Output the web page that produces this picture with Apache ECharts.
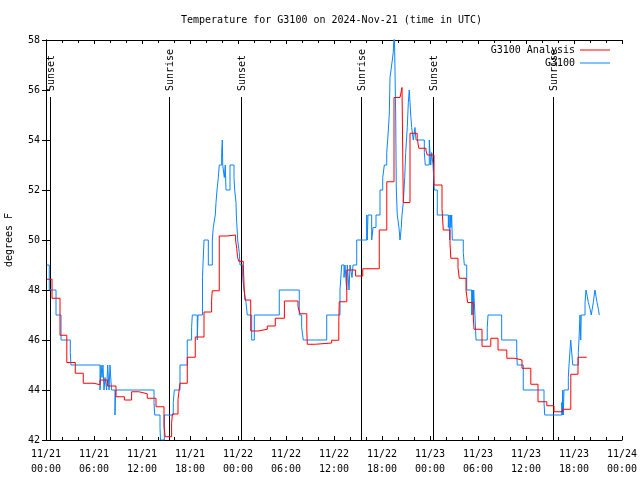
<!DOCTYPE html>
<html>
<head>
<meta charset="utf-8">
<script src="https://cdn.jsdelivr.net/npm/echarts@6/dist/echarts.min.js"></script>
<style>html,body{margin:0;padding:0;background:#fff}#c{width:640px;height:480px}</style>
</head>
<body>
<div id="c"></div>
<script>
// hours since 2024-11-21 00:00 UTC
const analysisHours = [0.12,0.75,1.75,2.6,3.66,4.66,6.0,6.75,7.7,8.75,9.8,10.7,11.6,12.66,13.75,14.75,14.9,15.7,15.8,16.5,16.75,17.66,18.66,19.75,20.7,20.78,21.66,22.6,23.7,23.84,23.94,24.08,24.66,24.78,24.87,25.59,26.5,27.66,28.66,29.8,31.5,31.75,32.6,32.66,33.7,35.7,36.6,36.66,37.6,38.7,39.6,41.66,42.6,43.5,44.25,44.5,44.66,45.5,46.4,46.6,47.5,47.66,48.5,49.5,49.66,50.5,50.6,51.5,51.66,52.5,52.7,53.4,53.5,54.5,55.6,56.5,57.6,58.6,59.5,60.6,61.5,62.6,63.5,64.6,65.6,66.5,67.6];
const analysisTemps = [48.43,47.67,46.19,45.1,44.67,44.27,44.21,44.4,44.16,43.73,43.6,43.93,43.85,43.67,43.33,42.53,42.13,42.67,43.04,43.63,44.27,45.31,46.12,47.12,47.57,47.97,50.16,50.2,50.0,49.67,49.33,49.15,49.04,48.0,47.6,46.36,46.43,46.56,46.87,47.56,47.33,47.05,46.43,45.83,45.88,45.99,46.77,47.53,48.8,48.56,48.85,50.4,52.33,55.7,55.75,56.1,51.5,54.27,54.07,53.67,53.57,53.4,52.2,51.27,50.4,49.87,49.27,48.89,48.47,48.0,47.5,47.0,46.43,45.75,46.07,45.6,45.27,45.2,44.87,44.23,43.53,43.37,43.13,43.23,44.63,45.31,45.31];
const obsHours = [0.09,0.41,1.25,1.88,3.04,3.12,6.75,6.88,7.0,7.12,7.25,7.38,7.58,7.71,7.88,8.0,8.19,8.34,8.62,8.71,13.5,13.59,14.25,14.31,14.79,15.91,16.04,16.75,17.66,18.2,18.29,18.91,19.0,19.56,19.75,20.29,20.79,20.91,21.16,21.25,21.38,21.54,21.66,21.96,22.04,22.09,22.29,22.41,22.5,23.0,23.5,23.59,23.75,23.79,23.88,23.96,24.16,24.25,24.59,24.75,25.0,25.16,25.71,26.04,29.16,31.66,31.96,32.16,35.09,36.75,36.96,37.25,37.38,37.58,37.66,37.88,38.0,38.25,38.38,38.84,40.09,40.16,40.25,40.71,40.88,41.25,41.75,42.09,42.29,42.59,42.71,42.91,43.0,43.21,43.41,43.54,43.71,43.79,43.91,44.12,44.25,44.41,44.5,44.66,44.84,44.96,45.16,45.29,45.41,45.59,45.71,45.91,46.12,46.25,47.29,47.41,47.91,48.09,48.21,48.38,48.46,48.54,48.91,50.29,50.38,50.46,50.54,50.62,50.71,50.79,52.16,52.29,52.59,53.21,53.29,53.38,53.46,53.62,53.75,55.16,55.25,56.96,58.84,58.91,59.66,62.25,62.34,64.46,64.54,64.59,64.66,64.75,65.29,65.38,65.59,65.84,66.54,66.62,66.75,66.84,66.91,67.38,67.5,67.66,67.79,68.0,68.16,68.41,68.62,68.75,68.88,69.04,69.16];
const obsTemps = [49.0,48.0,47.0,46.0,45.5,45.0,44.0,45.0,44.5,45.0,44.0,44.5,44.0,45.0,44.0,45.0,44.0,44.0,43.0,44.0,43.5,43.0,42.5,42.0,43.0,43.5,44.0,45.0,46.0,46.5,47.0,46.0,47.0,48.5,50.0,49.0,50.0,50.5,51.0,51.5,52.0,52.5,53.0,53.5,54.0,53.0,52.5,53.0,52.0,53.0,52.5,52.0,51.5,51.0,50.5,50.0,49.5,49.0,48.5,48.0,47.5,47.0,46.0,47.0,48.0,47.0,46.5,46.0,47.0,48.0,49.0,48.5,49.0,48.0,49.0,48.0,49.0,48.5,49.0,50.0,51.0,50.0,51.0,50.0,50.5,51.0,52.0,52.5,53.0,53.5,54.0,55.0,56.5,57.0,57.5,58.5,55.0,52.0,51.0,50.5,50.0,50.5,51.0,51.5,52.5,53.5,54.5,55.5,56.0,55.0,54.5,54.0,54.5,54.0,53.5,53.0,54.0,53.0,53.5,53.0,52.5,52.0,51.0,50.5,51.0,50.0,51.0,50.5,51.0,50.0,49.5,49.0,48.0,47.0,48.0,47.0,48.0,47.0,46.0,46.5,47.0,46.0,45.5,45.0,44.0,43.5,43.0,43.5,43.0,44.0,43.0,44.0,44.5,45.0,46.0,45.0,45.5,46.0,47.0,46.0,47.0,47.5,48.0,47.75,47.5,47.25,47.0,47.5,48.0,47.75,47.5,47.25,47.0];
const sunHours = [0.45,15.42,24.42,39.42,48.42,63.42];
const sunLabels = ['Sunset','Sunrise','Sunset','Sunrise','Sunset','Sunrise'];
const yTicks = [42,44,46,48,50,52,54,56,58];
const seriesNames = ['G3100 Analysis','G3100'];

const FONT = 'DejaVu Sans Mono';
const zip = (a,b) => a.map((v,i)=>[v,b[i]]);
const sunData = sunHours.map((h,i)=>[h, yTicks[0], sunLabels[i]]);
const lineTop = 55.72;

function fmtHour(h){
  const day = 21 + Math.floor(h/24);
  const hh = Math.round(h%24);
  return '11/' + day + '\n' + String(hh).padStart(2,'0') + ':00';
}

const chart = echarts.init(document.getElementById('c'), null, {renderer:'canvas'});
const axisCommonX = {
  type:'value', min:0, max:72, interval:6,
  axisLine:{show:true, lineStyle:{color:'#000', width:1}},
  axisTick:{show:true, inside:true, length:4, lineStyle:{color:'#000'}},
  minorTick:{show:true, splitNumber:3, length:3, lineStyle:{color:'#000'}},
  splitLine:{show:false}
};
const axisCommonY = {
  type:'value', min:yTicks[0], max:yTicks[yTicks.length-1], interval:2,
  axisLine:{show:true, lineStyle:{color:'#000', width:1}},
  axisTick:{show:true, inside:true, length:4, lineStyle:{color:'#000'}},
  splitLine:{show:false}
};
chart.setOption({
  animation:false,
  backgroundColor:'#fff',
  textStyle:{fontFamily:FONT},
  title:{text:'Temperature for G3100 on 2024-Nov-21 (time in UTC)', left:181, top:15, padding:0,
    textStyle:{fontFamily:FONT, fontSize:10, fontWeight:'normal', color:'#000'}},
  grid:{left:46, right:18, top:40, bottom:40, containLabel:false, outerBoundsMode:'none'},
  legend:[
    {data:[{name:seriesNames[0], icon:'rect'}], right:30, top:45, padding:0, orient:'vertical', align:'right',
     itemWidth:30, itemHeight:1, textStyle:{fontFamily:FONT, fontSize:10, color:'#000'}, selectedMode:false},
    {data:[{name:seriesNames[1], icon:'rect'}], right:30, top:58, padding:0, orient:'vertical', align:'right',
     itemWidth:30, itemHeight:1, textStyle:{fontFamily:FONT, fontSize:10, color:'#000'}, selectedMode:false}
  ],
  xAxis:[
    Object.assign({}, axisCommonX, {position:'bottom',
      axisLabel:{show:true, margin:7, color:'#000', fontFamily:FONT, fontSize:10, lineHeight:15, formatter:fmtHour}}),
    Object.assign({}, axisCommonX, {position:'top', axisLabel:{show:false}})
  ],
  yAxis:[
    Object.assign({}, axisCommonY, {position:'left', name:'degrees F', nameLocation:'middle', nameGap:32,
      nameTextStyle:{fontFamily:FONT, fontSize:10, color:'#000'},
      axisLabel:{show:true, margin:6, color:'#000', fontFamily:FONT, fontSize:10}}),
    Object.assign({}, axisCommonY, {position:'right', axisLabel:{show:false}})
  ],
  series:[
    {name:'sun', type:'custom', xAxisIndex:0, yAxisIndex:0, clip:false, z:1,
     data:sunData, encode:{x:0, y:1},
     renderItem:function(params, api){
       const t = api.value(0);
       const p0 = api.coord([t, yTicks[0]]);
       const p1 = api.coord([t, lineTop]);
       const label = sunLabels[params.dataIndex];
       return {type:'group', children:[
         {type:'line', shape:{x1:Math.round(p0[0])+0.5, y1:p0[1], x2:Math.round(p0[0])+0.5, y2:p1[1]},
          style:{stroke:'#000', lineWidth:1}},
         {type:'text', x:Math.round(p0[0])+1, y:p1[1]-6, rotation:Math.PI/2,
          style:{text:label, fill:'#000', font:'10px "DejaVu Sans Mono"', textAlign:'left', textVerticalAlign:'middle', verticalAlign:'middle'}}
       ]};
     }},
    {name:seriesNames[0], type:'line', step:'end', showSymbol:false, symbol:'none', z:3,
     data:zip(analysisHours, analysisTemps), color:'#ff0000',
     lineStyle:{color:'#ff0000', width:1}},
    {name:seriesNames[1], type:'line', step:'end', showSymbol:false, symbol:'none', z:2,
     data:zip(obsHours, obsTemps), color:'#0a84ff',
     lineStyle:{color:'#0a84ff', width:1}}
  ]
});
</script>
</body>
</html>
